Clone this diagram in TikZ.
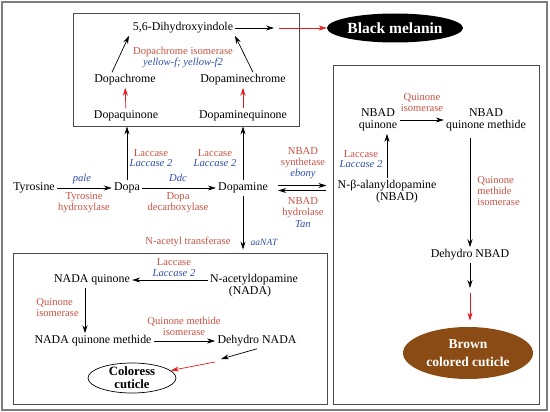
\documentclass[tikz,border=0pt]{standalone}
\usepackage{fontspec}
\setmainfont{Liberation Serif}
\usetikzlibrary{arrows.meta,shapes.geometric}
\definecolor{enzred}{RGB}{200,82,66}
\definecolor{geneblue}{RGB}{45,78,170}
\definecolor{arrred}{RGB}{228,28,32}
\definecolor{cuticlebrown}{RGB}{138,76,20}
\definecolor{framegray}{RGB}{125,125,125}

\begin{document}
\begin{tikzpicture}[x=1pt,y=-1pt,
    >={Stealth[length=8pt,width=5pt]},
    every node/.style={inner sep=2pt},
    every path/.style={line width=0.7pt},
    chem/.style={font=\fontsize{11.9}{12.5}\selectfont, align=center},
    enz/.style={text=enzred, font=\fontsize{10.6}{11}\selectfont, align=center},
    gene/.style={text=geneblue, font=\fontsize{10.6}{11}\selectfont\itshape},
    box/.style={draw=black!70, line width=0.9pt},
    redarrow/.style={->, arrred, line width=0.7pt}]
            \useasboundingbox (0,0) rectangle (550,412);
            \draw [framegray, line width=1.2pt] (2,2) rectangle (547,410);
            % boxes
            \node [box, minimum width=226pt, minimum height=113pt] (topbox) at (186,69.5) {};
            \node [box, minimum width=314pt, minimum height=151pt] (botbox) at (170,328.5) {};
            \node [box, minimum width=206pt, minimum height=339pt] (rightbox) at (436,234.5) {};
            % top box
            \node [chem] (dhi) at (183,28) {5,6-Dihydroxyindole};
            \node [chem] (dch) at (125,80) {Dopachrome};
            \node [chem] (dmch) at (243,80) {Dopaminechrome};
            \node [chem] (dq) at (126,116) {Dopaquinone};
            \node [chem] (dmq) at (243,116) {Dopaminequinone};
            \node [enz] (dci) at (183,52) {Dopachrome isomerase};
            \node [gene] (dcig) at (183,63) {yellow-f; yellow-f2};
            \draw [->] ([xshift=-13pt]dch.north) -- ([xshift=-54pt]dhi.south);
            \draw [->] ([xshift=10pt]dmch.north) -- ([xshift=52pt]dhi.south);
            \draw [redarrow] (dq) -- (dch);
            \draw [redarrow] (dmq) -- (dmch);
            \node [ellipse, fill=black, text=white, font=\bfseries\fontsize{15.5}{17}\selectfont, minimum width=136pt, minimum height=29pt, inner sep=-2pt] (black) at (395,28) {Black melanin};
            \coordinate (dhiend) at (274,28);
            \draw [->] (dhi) -- (dhiend);
            \draw [redarrow] ([xshift=5pt]dhiend) -- (black);
            % main row
            \node [chem] (tyr) at (34,188) {Tyrosine};
            \node [chem] (dopa) at (127,188) {Dopa};
            \node [chem] (dpm) at (243,188) {Dopamine};
            \draw [->] (tyr) -- (dopa);
            \draw [->] (dopa) -- (dpm);
            \node [gene] (pale) at (82,179) {pale};
            \node [enz] (tyh) at (84,202.5) {Tyrosine\\hydroxylase};
            \node [gene] (ddc) at (178,178) {Ddc};
            \node [enz] (ddcl) at (178,202.5) {Dopa\\decarboxylase};
            \draw [->] (dopa) -- (dopa |- topbox.south);
            \draw [->] (dpm) -- (dpm |- topbox.south);
            \node [enz] (lac1) at (151,153) {Laccase};
            \node [gene] (lac1g) at (151,163) {Laccase 2};
            \node [enz] (lac2) at (215,153) {Laccase};
            \node [gene] (lac2g) at (215,163) {Laccase 2};
            \draw [->, shorten >=3pt] (dpm) -- (dpm |- botbox.north);
            \node [enz] (nat) at (188,242) {N-acetyl transferase};
            \node [gene, font=\fontsize{9.5}{10}\selectfont\itshape] (natg) at (264,242) {aaNAT};
            % dopamine <-> NBAD
            \node [chem] (nbad) at (387,186) {N-β-alanyldopamine};
            \node [chem] (nbadn) at (397,198) {(NBAD)};
            \draw [->, shorten <=8pt, shorten >=9pt] ([yshift=2.5pt]dpm.east) -- ([yshift=2.5pt]dpm.east -| nbad.west);
            \draw [<-, shorten <=8pt, shorten >=9pt] ([yshift=-2.5pt]dpm.east) -- ([yshift=-2.5pt]dpm.east -| nbad.west);
            \node [enz] (syn) at (303,157.5) {NBAD\\synthetase};
            \node [gene] (ebony) at (303,174) {ebony};
            \node [enz] (hyd) at (303,208) {NBAD\\hydrolase};
            \node [gene] (tan) at (303,224) {Tan};
            % right box
            \node [chem] (nbq) at (378,120) {NBAD\\quinone};
            \node [chem] (nbqm) at (486,120) {NBAD\\quinone methide};
            \draw [->] (nbq) -- (nbqm);
            \node [enz] (qi) at (422,102.5) {Quinone\\isomerase};
            \draw [->] (nbad) -- (nbad |- nbq.south);
            \node [enz] (lac3) at (361,154) {Laccase};
            \node [gene] (lac3g) at (361,164) {Laccase 2};
            \node [chem] (dnbad) at (470,255) {Dehydro NBAD};
            \draw [->, shorten <=4pt] (dnbad |- nbqm.south) -- (dnbad);
            \node [enz, align=left, anchor=west] (qmi) at (475,191) {Quinone\\methide\\isomerase};
            \node [ellipse, fill=cuticlebrown, text=white, font=\bfseries\fontsize{13.5}{18}\selectfont, align=center, minimum width=130pt, minimum height=52pt, inner sep=-4pt] (brown) at (468,353) {Brown\\colored cuticle};
            \coordinate (nbend) at (470,288);
            \draw [->] (dnbad.south) -- (nbend);
            \draw [redarrow, shorten >=6pt] ([yshift=-5pt]nbend) -- (nbend |- brown.north);
            % bottom box
            \node [chem] (nadaq) at (92,280) {NADA quinone};
            \node [chem] (nada) at (254,280) {N-acetyldopamine};
            \node [chem] (nadan) at (250,292) {(NADA)};
            \draw [->] (nada) -- (nadaq);
            \node [enz] (lac4) at (174,262) {Laccase};
            \node [gene] (lac4g) at (174,273) {Laccase 2};
            \node [chem] (nadaqm) at (93,341) {NADA quinone methide};
            \draw [->] ([xshift=-7pt]nadaq.south) -- ([xshift=-8pt]nadaqm.north);
            \node [enz, align=left, anchor=west] (qi2) at (34,307.5) {Quinone\\isomerase};
            \node [chem] (dnada) at (257,341) {Dehydro NADA};
            \draw [->] (nadaqm) -- (dnada);
            \node [enz] (qmi2) at (184,326) {Quinone methide\\isomerase};
            \node [ellipse, draw, fill=white, font=\bfseries\fontsize{12.7}{13}\selectfont, align=center, minimum width=88pt, minimum height=30pt, inner sep=-3pt] (col) at (132,378) {Coloress\\cuticle};
            \coordinate (nabend) at (221,359);
            \draw [->] (dnada.south) -- (nabend);
            \draw [redarrow] ([shift={(-6pt,-3pt)}]nabend) -- (col);
        \end{tikzpicture}
\end{document}
